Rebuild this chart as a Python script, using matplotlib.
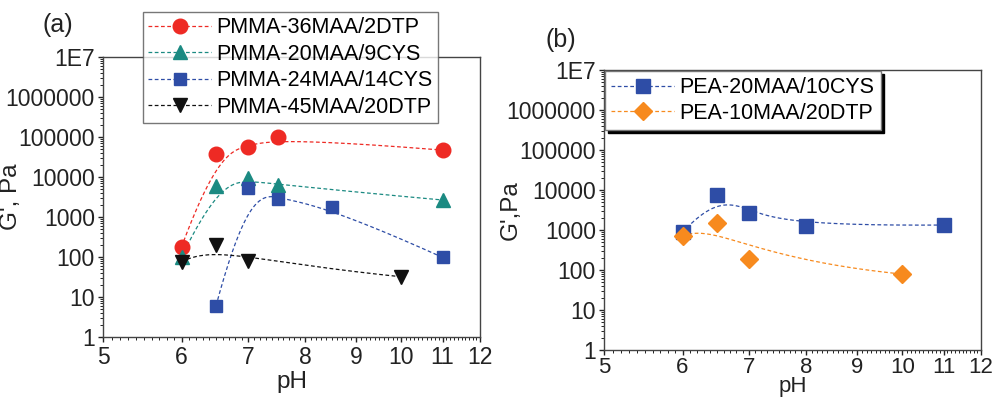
import numpy as np
import matplotlib
matplotlib.use("Agg")
import matplotlib.pyplot as plt
from matplotlib.ticker import FixedLocator, FixedFormatter, NullFormatter, LogLocator

plt.rcParams['font.family'] = ['Liberation Sans', 'DejaVu Sans']

# ---------------- data ----------------
ph_red = [6, 6.5, 7, 7.5, 11]
g_red = [178, 37600, 57000, 100000, 47000]
ph_teal = [6, 6.5, 7, 7.5, 11]
g_teal = [100, 6000, 9300, 6300, 2660]
ph_blue_a = [6.5, 7, 7.5, 8.5, 11]
g_blue_a = [6, 5200, 2760, 1740, 98]
ph_black = [6, 6.5, 7, 10]
g_black = [76, 200, 80, 32]

ph_blue_b = [6, 6.5, 7, 8, 11]
g_blue_b = [870, 7500, 2630, 1270, 1330]
ph_orange = [6, 6.5, 7, 10]
g_orange = [710, 1480, 190, 79]

labels_a = ['PMMA-36MAA/2DTP', 'PMMA-20MAA/9CYS', 'PMMA-24MAA/14CYS', 'PMMA-45MAA/20DTP']
labels_b = ['PEA-20MAA/10CYS', 'PEA-10MAA/20DTP']

x_ticks = [5, 6, 7, 8, 9, 10, 11, 12]
y_ticks = [1, 10, 100, 1000, 10000, 100000, 1000000, 1e7]
y_ticklabels = ['1', '10', '100', '1000', '10000', '100000', '1000000', '1E7']

RED = '#ee2a24'
TEAL = '#1b8a82'
BLUE = '#2e4da6'
BLACK = '#111111'
ORANGE = '#f78a1e'
TXT = '#222222'


def bspline(xs, ys, num=300):
    """Clamped uniform B-spline using data points as control points (log-log space)."""
    P = np.column_stack([np.log10(xs), np.log10(ys)])
    n = len(P)
    k = min(3, n - 1)
    inner = np.linspace(0, 1, n - k + 1)
    knots = np.concatenate([np.zeros(k), inner, np.ones(k)])
    t = np.linspace(0, 1, num)
    t[-1] = 1 - 1e-12
    N = np.zeros((num, len(knots) - 1))
    for i in range(len(knots) - 1):
        N[:, i] = ((t >= knots[i]) & (t < knots[i + 1])).astype(float)
    for d in range(1, k + 1):
        Nn = np.zeros((num, len(knots) - 1 - d))
        for i in range(len(knots) - 1 - d):
            den1 = knots[i + d] - knots[i]
            den2 = knots[i + d + 1] - knots[i + 1]
            term = np.zeros(num)
            if den1 > 0:
                term += (t - knots[i]) / den1 * N[:, i]
            if den2 > 0:
                term += (knots[i + d + 1] - t) / den2 * N[:, i + 1]
            Nn[:, i] = term
        N = Nn
    C = N @ P
    return 10 ** C[:, 0], 10 ** C[:, 1]


def style_axes(ax, xpad=2, xsize=16.5):
    ax.set_xscale('log')
    ax.set_yscale('log')
    ax.set_xlim(5, 12)
    ax.set_ylim(1, 1e7)
    ax.xaxis.set_major_locator(FixedLocator(x_ticks))
    ax.xaxis.set_major_formatter(FixedFormatter([str(v) for v in x_ticks]))
    minors = [round(v, 1) for v in np.arange(5.1, 12.0, 0.1) if abs(v - round(v)) > 1e-6]
    ax.xaxis.set_minor_locator(FixedLocator(minors))
    ax.xaxis.set_minor_formatter(NullFormatter())
    ax.yaxis.set_major_locator(FixedLocator(y_ticks))
    ax.yaxis.set_major_formatter(FixedFormatter(y_ticklabels))
    ax.yaxis.set_minor_locator(LogLocator(base=10, subs=np.arange(2, 10), numticks=20))
    ax.yaxis.set_minor_formatter(NullFormatter())
    ax.tick_params(which='major', direction='out', length=3.8, width=1, labelsize=16.5,
                   colors=TXT, pad=2)
    ax.tick_params(axis='x', which='major', pad=xpad, labelsize=xsize)
    ax.tick_params(which='minor', direction='out', length=2, width=0.7, colors=TXT)
    for s in ax.spines.values():
        s.set_color('#444444')
        s.set_linewidth(1.0)


fig = plt.figure(figsize=(9.95, 4.0), dpi=100)
ax1 = fig.add_axes([103 / 995, 1 - 337 / 400, 377 / 995, 280 / 400])
ax2 = fig.add_axes([604 / 995, 1 - 350 / 400, 377 / 995, 280 / 400])

dash = (0, (3, 2))

series_a = [
    (ph_red, g_red, RED, 'o', 10.5),
    (ph_teal, g_teal, TEAL, '^', 10.5),
    (ph_blue_a, g_blue_a, BLUE, 's', 9),
    (ph_black, g_black, BLACK, 'v', 10.5),
]
handles = []
for (xs, ys, c, m, ms), lab in zip(series_a, labels_a):
    cx, cy = bspline(xs, ys)
    ax1.plot(cx, cy, color=c, lw=0.9, linestyle=dash, zorder=2)
    ax1.plot(xs, ys, linestyle='none', marker=m, ms=ms, color=c, mec=c, zorder=3)
    h, = ax1.plot([], [], color=c, lw=0.9, linestyle=dash, marker=m, ms=ms, mec=c)
    handles.append(h)

series_b = [
    (ph_blue_b, g_blue_b, BLUE, 's', 9.5),
    (ph_orange, g_orange, ORANGE, 'D', 9.5),
]
handles_b = []
for (xs, ys, c, m, ms), lab in zip(series_b, labels_b):
    cx, cy = bspline(xs, ys)
    ax2.plot(cx, cy, color=c, lw=0.9, linestyle=dash, zorder=2)
    ax2.plot(xs, ys, linestyle='none', marker=m, ms=ms, color=c, mec=c, zorder=3)
    h, = ax2.plot([], [], color=c, lw=0.9, linestyle=dash, marker=m, ms=ms, mec=c)
    handles_b.append(h)

style_axes(ax1, xpad=3)
style_axes(ax2, xpad=1, xsize=16)

ax1.set_xlabel('pH', fontsize=17.5, color=TXT, labelpad=1)
ax2.set_xlabel('pH', fontsize=16, color=TXT, labelpad=-1.5)

ax1.set_ylabel("G', Pa", fontsize=17.5, color=TXT)
ax1.yaxis.set_label_coords((22 - 103) / 377, 0.5)
ax2.set_ylabel("G',Pa", fontsize=17.5, color=TXT)
ax2.yaxis.set_label_coords((522 - 604) / 377, 0.5)

leg1 = ax1.legend(handles, labels_a, loc='upper left',
                  bbox_to_anchor=(143 / 995, 1 - 12 / 400), bbox_transform=fig.transFigure,
                  fontsize=15.5, frameon=True, fancybox=False, handlelength=2.9,
                  handletextpad=0.25, labelspacing=0.25, borderpad=0.25, borderaxespad=0)
leg1.get_frame().set_edgecolor('#555555')
leg1.get_frame().set_linewidth(1.0)

leg2 = ax2.legend(handles_b, labels_b, loc='upper left',
                  bbox_to_anchor=(605 / 995, 1 - 71 / 400), bbox_transform=fig.transFigure,
                  fontsize=15.5, frameon=True, fancybox=False, handlelength=2.9,
                  handletextpad=0.25, labelspacing=0.2, borderpad=0.3, borderaxespad=0,
                  shadow={'facecolor': 'black', 'edgecolor': 'black', 'alpha': 1})
leg2.get_frame().set_edgecolor('#777777')
leg2.get_frame().set_linewidth(1.0)

fig.text(43 / 995, 1 - 25 / 400, '(a)', fontsize=18, color=TXT, va='center', ha='left')
fig.text(546 / 995, 1 - 40 / 400, '(b)', fontsize=18, color=TXT, va='center', ha='left')

fig.savefig('out.png', dpi=100)
